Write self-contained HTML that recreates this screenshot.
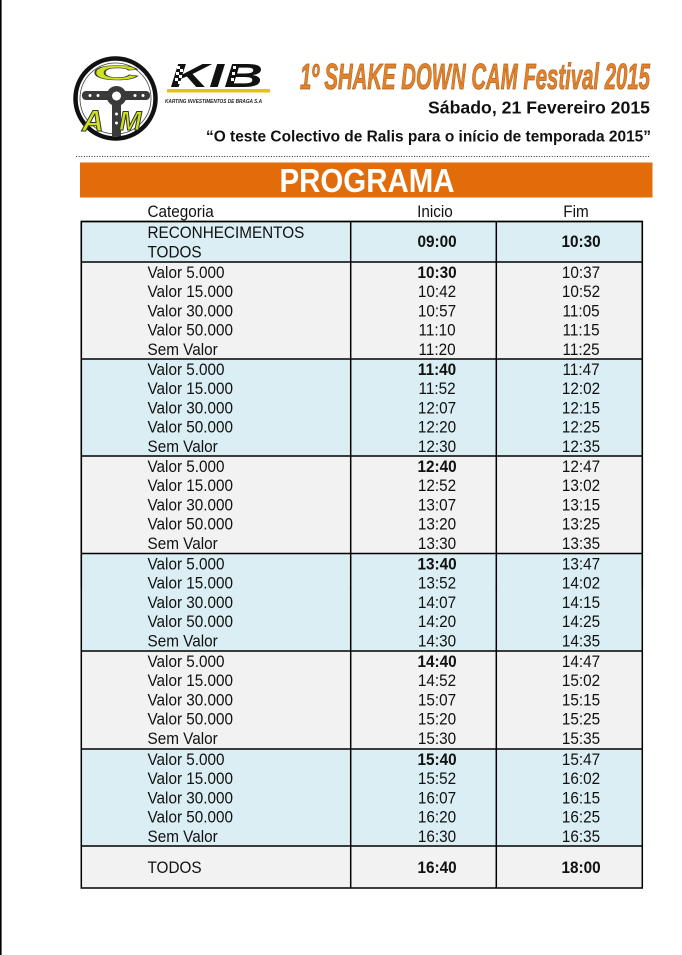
<!DOCTYPE html>
<html>
<head>
<meta charset="utf-8">
<style>
  html,body{margin:0;padding:0;background:#fff;}
  body{width:682px;height:955px;overflow:hidden;}
  svg{display:block;}
  .t{font-family:"Liberation Sans",Arial,sans-serif;font-size:17px;fill:#111;}
  .b{font-weight:bold;}
</style>
</head>
<body>
<svg width="682" height="955" viewBox="0 0 682 955" xmlns="http://www.w3.org/2000/svg">
  <!-- left page edge -->
  <rect x="0" y="0" width="1.6" height="955" fill="#000"/>

  <!-- CAM logo -->
  <circle cx="115.5" cy="98.5" r="40" fill="#fff" stroke="#111" stroke-width="4.5"/>
  <circle cx="115.5" cy="98.5" r="35.5" fill="none" stroke="#444" stroke-width="0.8"/>
  <text x="0" y="0" transform="translate(116,80) scale(1.9,0.62)" text-anchor="middle" font-family="Liberation Sans, sans-serif" font-weight="bold" font-size="34" fill="#CFE31C" stroke="#3a3a3a" stroke-width="1">C</text>
  <!-- steering wheel -->
  <rect x="82" y="91" width="68" height="9" rx="4" fill="#3a3a3a"/>
  <rect x="112" y="96" width="9" height="40" fill="#3a3a3a"/>
  <circle cx="116.5" cy="96" r="10" fill="#3a3a3a"/>
  <circle cx="116.5" cy="96" r="4.5" fill="#fff"/>
  <circle cx="90" cy="95.5" r="1.5" fill="#fff"/>
  <circle cx="98" cy="95.5" r="1.5" fill="#fff"/>
  <circle cx="135" cy="95.5" r="1.5" fill="#fff"/>
  <circle cx="143" cy="95.5" r="1.5" fill="#fff"/>
  <circle cx="116.5" cy="114" r="1.5" fill="#fff"/>
  <circle cx="116.5" cy="123" r="1.5" fill="#fff"/>
  <text x="82" y="131" font-family="Liberation Sans, sans-serif" font-style="italic" font-weight="bold" font-size="30" fill="#CFE31C" stroke="#333" stroke-width="1">A</text>
  <text x="119" y="130" font-family="Liberation Sans, sans-serif" font-style="italic" font-weight="bold" font-size="27" fill="#CFE31C" stroke="#333" stroke-width="1">M</text>

  <!-- KIB logo -->
  <text x="170" y="87" textLength="93" lengthAdjust="spacingAndGlyphs" font-family="Liberation Sans, sans-serif" font-style="italic" font-weight="bold" font-size="33" fill="#111">KIB</text>
  <g fill="#fff">
    <rect x="177" y="66" width="3" height="3"/><rect x="180" y="69" width="3" height="3"/>
    <rect x="176" y="72" width="3" height="3"/><rect x="179" y="75" width="3" height="3"/>
    <rect x="175" y="78" width="3" height="3"/><rect x="178" y="81" width="3" height="3"/>
    <rect x="210" y="66" width="3" height="3"/><rect x="209" y="72" width="3" height="3"/>
    <rect x="208" y="78" width="3" height="3"/>
    <rect x="233" y="66" width="3" height="3"/><rect x="232" y="72" width="3" height="3"/>
    <rect x="231" y="78" width="3" height="3"/>
  </g>
  <rect x="167" y="89" width="103" height="3.5" fill="#E4C21A"/>
  <text x="165" y="103" textLength="97" lengthAdjust="spacingAndGlyphs" font-family="Liberation Sans, sans-serif" font-style="italic" font-weight="bold" font-size="5.5" fill="#222">KARTING INVESTIMENTOS DE BRAGA  S.A</text>

  <!-- Title -->
  <text x="300" y="89" textLength="350" lengthAdjust="spacingAndGlyphs" font-family="Liberation Sans, sans-serif" font-style="italic" font-weight="bold" font-size="36" fill="#E2822A" stroke="#B0601C" stroke-width="0.8">1º SHAKE DOWN CAM Festival 2015</text>
  <text x="428" y="113.5" textLength="222" lengthAdjust="spacingAndGlyphs" font-family="Liberation Sans, sans-serif" font-weight="bold" font-size="17.5" fill="#111">Sábado, 21 Fevereiro 2015</text>
  <text x="206" y="141.5" textLength="445" lengthAdjust="spacingAndGlyphs" font-family="Liberation Sans, sans-serif" font-weight="bold" font-size="15.5" fill="#111">“O teste Colectivo de Ralis para o início de temporada 2015”</text>

  <!-- dotted line -->
  <line x1="76" y1="156.5" x2="649" y2="156.5" stroke="#333" stroke-width="1" stroke-dasharray="1,1.6"/>

  <!-- Orange banner -->
  <rect x="80" y="162.5" width="572.5" height="35" fill="#E36C0A"/>
  <text x="367" y="192" text-anchor="middle" textLength="175" lengthAdjust="spacingAndGlyphs" font-family="Liberation Sans, sans-serif" font-weight="bold" font-size="33" fill="#fff">PROGRAMA</text>

  <!-- Table fills -->
  <rect x="81.3" y="221.5" width="561" height="40.5" fill="#DAEEF3"/>
  <rect x="81.3" y="262" width="561" height="97" fill="#F2F2F2"/>
  <rect x="81.3" y="359" width="561" height="97" fill="#DAEEF3"/>
  <rect x="81.3" y="456" width="561" height="97.5" fill="#F2F2F2"/>
  <rect x="81.3" y="553.5" width="561" height="97.5" fill="#DAEEF3"/>
  <rect x="81.3" y="651" width="561" height="98" fill="#F2F2F2"/>
  <rect x="81.3" y="749" width="561" height="97" fill="#DAEEF3"/>
  <rect x="81.3" y="846" width="561" height="42" fill="#F2F2F2"/>

  <!-- Table lines -->
  <g stroke="#000" stroke-width="1.5" fill="none">
    <rect x="81.3" y="221.5" width="561" height="366.5"/>
    <rect x="81.3" y="221.5" width="561" height="666.5"/>
    <line x1="350.7" y1="221.5" x2="350.7" y2="888"/>
    <line x1="496.3" y1="221.5" x2="496.3" y2="888"/>
    <line x1="81.3" y1="262" x2="642.3" y2="262"/>
    <line x1="81.3" y1="359" x2="642.3" y2="359"/>
    <line x1="81.3" y1="456" x2="642.3" y2="456"/>
    <line x1="81.3" y1="553.5" x2="642.3" y2="553.5"/>
    <line x1="81.3" y1="651" x2="642.3" y2="651"/>
    <line x1="81.3" y1="749" x2="642.3" y2="749"/>
    <line x1="81.3" y1="846" x2="642.3" y2="846"/>
  </g>
  <!-- cover the duplicate rect's inner bottom line at 588 -->
  <line x1="82.1" y1="588" x2="349.9" y2="588" stroke="#DAEEF3" stroke-width="2"/>
  <line x1="351.5" y1="588" x2="495.5" y2="588" stroke="#DAEEF3" stroke-width="2"/>
  <line x1="497.1" y1="588" x2="641.5" y2="588" stroke="#DAEEF3" stroke-width="2"/>

  <!-- Table text (condensed 0.9) -->
  <g transform="scale(0.9,1)">
    <!-- header -->
    <text class="t" x="163.9" y="217">Categoria</text>
    <text class="t" x="483.3" y="217" text-anchor="middle">Inicio</text>
    <text class="t" x="640" y="217" text-anchor="middle">Fim</text>

    <!-- reconhecimentos -->
    <text class="t" x="163.9" y="238">RECONHECIMENTOS</text>
    <text class="t" x="163.9" y="257.5">TODOS</text>
    <text class="t b" x="485.6" y="247" text-anchor="middle">09:00</text>
    <text class="t b" x="645.6" y="247" text-anchor="middle">10:30</text>

    <!-- G1 -->
    <text class="t" x="163.9" y="278">Valor 5.000</text>
    <text class="t" x="163.9" y="297.2">Valor 15.000</text>
    <text class="t" x="163.9" y="316.4">Valor 30.000</text>
    <text class="t" x="163.9" y="335.6">Valor 50.000</text>
    <text class="t" x="163.9" y="354.8">Sem Valor</text>
    <text class="t b" x="485.6" y="278" text-anchor="middle">10:30</text>
    <text class="t" x="485.6" y="297.2" text-anchor="middle">10:42</text>
    <text class="t" x="485.6" y="316.4" text-anchor="middle">10:57</text>
    <text class="t" x="485.6" y="335.6" text-anchor="middle">11:10</text>
    <text class="t" x="485.6" y="354.8" text-anchor="middle">11:20</text>
    <text class="t" x="645.6" y="278" text-anchor="middle">10:37</text>
    <text class="t" x="645.6" y="297.2" text-anchor="middle">10:52</text>
    <text class="t" x="645.6" y="316.4" text-anchor="middle">11:05</text>
    <text class="t" x="645.6" y="335.6" text-anchor="middle">11:15</text>
    <text class="t" x="645.6" y="354.8" text-anchor="middle">11:25</text>

    <!-- G2 -->
    <text class="t" x="163.9" y="375">Valor 5.000</text>
    <text class="t" x="163.9" y="394.2">Valor 15.000</text>
    <text class="t" x="163.9" y="413.4">Valor 30.000</text>
    <text class="t" x="163.9" y="432.6">Valor 50.000</text>
    <text class="t" x="163.9" y="451.8">Sem Valor</text>
    <text class="t b" x="485.6" y="375" text-anchor="middle">11:40</text>
    <text class="t" x="485.6" y="394.2" text-anchor="middle">11:52</text>
    <text class="t" x="485.6" y="413.4" text-anchor="middle">12:07</text>
    <text class="t" x="485.6" y="432.6" text-anchor="middle">12:20</text>
    <text class="t" x="485.6" y="451.8" text-anchor="middle">12:30</text>
    <text class="t" x="645.6" y="375" text-anchor="middle">11:47</text>
    <text class="t" x="645.6" y="394.2" text-anchor="middle">12:02</text>
    <text class="t" x="645.6" y="413.4" text-anchor="middle">12:15</text>
    <text class="t" x="645.6" y="432.6" text-anchor="middle">12:25</text>
    <text class="t" x="645.6" y="451.8" text-anchor="middle">12:35</text>

    <!-- G3 -->
    <text class="t" x="163.9" y="472">Valor 5.000</text>
    <text class="t" x="163.9" y="491.2">Valor 15.000</text>
    <text class="t" x="163.9" y="510.4">Valor 30.000</text>
    <text class="t" x="163.9" y="529.6">Valor 50.000</text>
    <text class="t" x="163.9" y="548.8">Sem Valor</text>
    <text class="t b" x="485.6" y="472" text-anchor="middle">12:40</text>
    <text class="t" x="485.6" y="491.2" text-anchor="middle">12:52</text>
    <text class="t" x="485.6" y="510.4" text-anchor="middle">13:07</text>
    <text class="t" x="485.6" y="529.6" text-anchor="middle">13:20</text>
    <text class="t" x="485.6" y="548.8" text-anchor="middle">13:30</text>
    <text class="t" x="645.6" y="472" text-anchor="middle">12:47</text>
    <text class="t" x="645.6" y="491.2" text-anchor="middle">13:02</text>
    <text class="t" x="645.6" y="510.4" text-anchor="middle">13:15</text>
    <text class="t" x="645.6" y="529.6" text-anchor="middle">13:25</text>
    <text class="t" x="645.6" y="548.8" text-anchor="middle">13:35</text>

    <!-- G4 -->
    <text class="t" x="163.9" y="569.5">Valor 5.000</text>
    <text class="t" x="163.9" y="588.7">Valor 15.000</text>
    <text class="t" x="163.9" y="607.9">Valor 30.000</text>
    <text class="t" x="163.9" y="627.1">Valor 50.000</text>
    <text class="t" x="163.9" y="646.3">Sem Valor</text>
    <text class="t b" x="485.6" y="569.5" text-anchor="middle">13:40</text>
    <text class="t" x="485.6" y="588.7" text-anchor="middle">13:52</text>
    <text class="t" x="485.6" y="607.9" text-anchor="middle">14:07</text>
    <text class="t" x="485.6" y="627.1" text-anchor="middle">14:20</text>
    <text class="t" x="485.6" y="646.3" text-anchor="middle">14:30</text>
    <text class="t" x="645.6" y="569.5" text-anchor="middle">13:47</text>
    <text class="t" x="645.6" y="588.7" text-anchor="middle">14:02</text>
    <text class="t" x="645.6" y="607.9" text-anchor="middle">14:15</text>
    <text class="t" x="645.6" y="627.1" text-anchor="middle">14:25</text>
    <text class="t" x="645.6" y="646.3" text-anchor="middle">14:35</text>

    <!-- G5 -->
    <text class="t" x="163.9" y="667">Valor 5.000</text>
    <text class="t" x="163.9" y="686.2">Valor 15.000</text>
    <text class="t" x="163.9" y="705.4">Valor 30.000</text>
    <text class="t" x="163.9" y="724.6">Valor 50.000</text>
    <text class="t" x="163.9" y="743.8">Sem Valor</text>
    <text class="t b" x="485.6" y="667" text-anchor="middle">14:40</text>
    <text class="t" x="485.6" y="686.2" text-anchor="middle">14:52</text>
    <text class="t" x="485.6" y="705.4" text-anchor="middle">15:07</text>
    <text class="t" x="485.6" y="724.6" text-anchor="middle">15:20</text>
    <text class="t" x="485.6" y="743.8" text-anchor="middle">15:30</text>
    <text class="t" x="645.6" y="667" text-anchor="middle">14:47</text>
    <text class="t" x="645.6" y="686.2" text-anchor="middle">15:02</text>
    <text class="t" x="645.6" y="705.4" text-anchor="middle">15:15</text>
    <text class="t" x="645.6" y="724.6" text-anchor="middle">15:25</text>
    <text class="t" x="645.6" y="743.8" text-anchor="middle">15:35</text>

    <!-- G6 -->
    <text class="t" x="163.9" y="765">Valor 5.000</text>
    <text class="t" x="163.9" y="784.2">Valor 15.000</text>
    <text class="t" x="163.9" y="803.4">Valor 30.000</text>
    <text class="t" x="163.9" y="822.6">Valor 50.000</text>
    <text class="t" x="163.9" y="841.8">Sem Valor</text>
    <text class="t b" x="485.6" y="765" text-anchor="middle">15:40</text>
    <text class="t" x="485.6" y="784.2" text-anchor="middle">15:52</text>
    <text class="t" x="485.6" y="803.4" text-anchor="middle">16:07</text>
    <text class="t" x="485.6" y="822.6" text-anchor="middle">16:20</text>
    <text class="t" x="485.6" y="841.8" text-anchor="middle">16:30</text>
    <text class="t" x="645.6" y="765" text-anchor="middle">15:47</text>
    <text class="t" x="645.6" y="784.2" text-anchor="middle">16:02</text>
    <text class="t" x="645.6" y="803.4" text-anchor="middle">16:15</text>
    <text class="t" x="645.6" y="822.6" text-anchor="middle">16:25</text>
    <text class="t" x="645.6" y="841.8" text-anchor="middle">16:35</text>

    <!-- last -->
    <text class="t" x="163.9" y="873">TODOS</text>
    <text class="t b" x="485.6" y="873" text-anchor="middle">16:40</text>
    <text class="t b" x="645.6" y="873" text-anchor="middle">18:00</text>
  </g>
</svg>
</body>
</html>
